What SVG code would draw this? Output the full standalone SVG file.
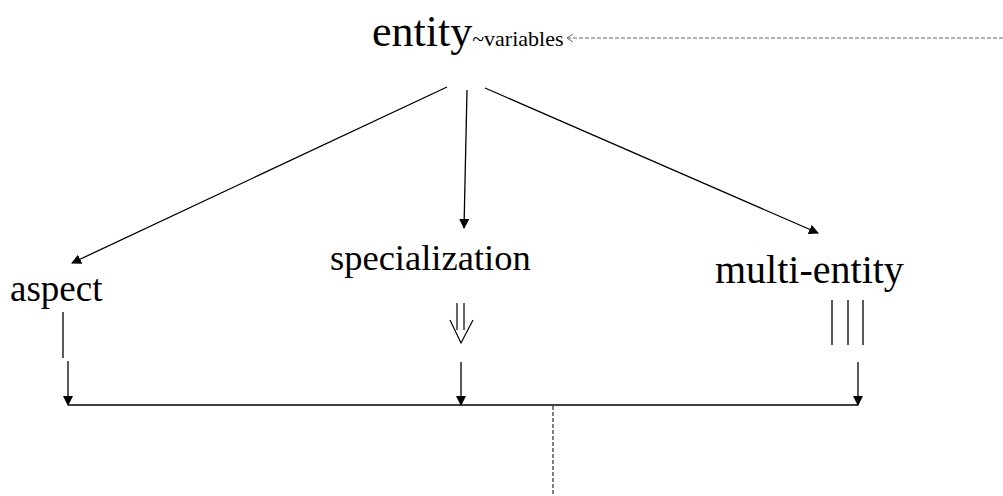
<svg xmlns="http://www.w3.org/2000/svg" width="1003" height="496" viewBox="0 0 1003 496">
<style>
.t{font-family:"Liberation Serif",serif;fill:#000}
.l{stroke:#000;stroke-width:1.3;fill:none}
</style>
<defs>
<marker id="a" markerWidth="10" markerHeight="10" refX="9" refY="5" orient="auto" markerUnits="userSpaceOnUse" viewBox="0 0 10 10"><path d="M0,0 L10,5 L0,10 Z" fill="#000"/></marker>
<marker id="o" markerWidth="8" markerHeight="8" refX="7" refY="4" orient="auto" markerUnits="userSpaceOnUse" viewBox="0 0 8 8"><path d="M1,0 L7,4 L1,8" fill="none" stroke="#666" stroke-width="1"/></marker>
</defs>
<g id="entity"><text class="t" x="372" y="46" font-size="44">entity<tspan font-size="22">~variables</tspan></text></g>
<g id="aspect"><text class="t" x="10" y="301" font-size="37">aspect</text></g>
<g id="specialization"><text class="t" x="330" y="270" font-size="36.5">specialization</text></g>
<g id="multi-entity"><text class="t" x="715" y="283" font-size="40">multi-entity</text></g>
<g id="connectors">
<line x1="1003" y1="38" x2="567" y2="38" stroke="#666" stroke-width="1" stroke-dasharray="4,2" marker-end="url(#o)"/>
<line class="l" x1="447" y1="87" x2="72" y2="263" marker-end="url(#a)"/>
<line class="l" x1="467" y1="90" x2="464" y2="228" marker-end="url(#a)"/>
<line class="l" x1="485" y1="88" x2="818" y2="233" marker-end="url(#a)"/>
<line class="l" x1="63" y1="312" x2="63" y2="358"/>
<line class="l" x1="68" y1="361" x2="68" y2="405" marker-end="url(#a)"/>
<path d="M457,303 V330 M464,303 V330" stroke="#000" stroke-width="1.2" fill="none"/>
<path d="M450,320 L461,343 L473,320" stroke="#000" stroke-width="1.2" fill="none"/>
<line class="l" x1="461" y1="362" x2="461" y2="405" marker-end="url(#a)"/>
<path d="M832,300 V345 M848,300 V345 M863,300 V345" stroke="#000" stroke-width="1.3" fill="none"/>
<line class="l" x1="858" y1="362" x2="858" y2="405" marker-end="url(#a)"/>
<line class="l" x1="68" y1="405" x2="858" y2="405"/>
<line x1="553" y1="406" x2="553" y2="496" stroke="#000" stroke-width="1" stroke-dasharray="4,2"/>
</g>
</svg>
